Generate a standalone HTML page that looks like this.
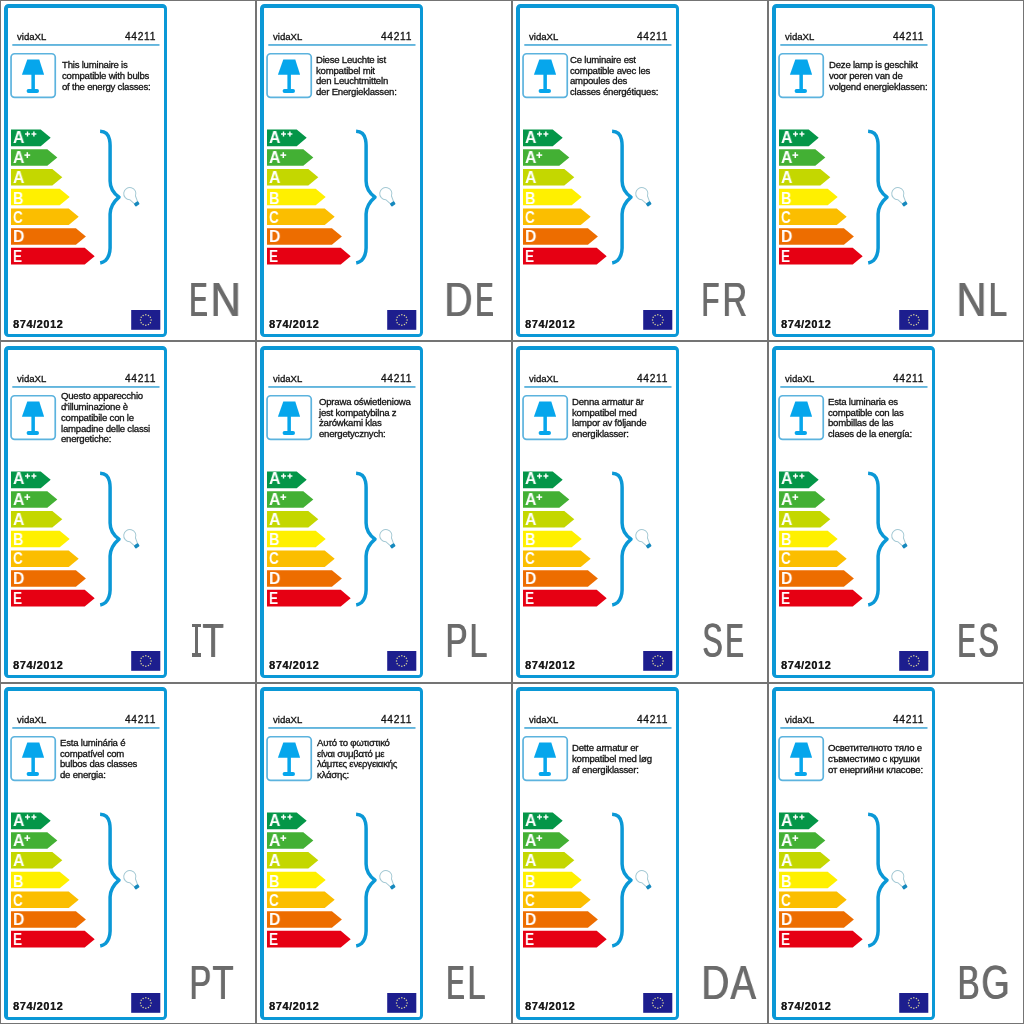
<!DOCTYPE html><html><head><meta charset="utf-8"><style>
*{margin:0;padding:0;box-sizing:border-box}
html,body{width:1024px;height:1024px;background:#fff;overflow:hidden}
body{position:relative;font-family:"Liberation Sans",sans-serif}
.cell{position:absolute;width:256px;border:1px solid #747474;background:#fff}
.c{position:absolute;left:0;width:256px;height:1px}
.lbl{position:absolute;left:4px;width:163px;border:solid #0b98d6;border-width:4px 3px 3px 4px;border-radius:4.5px}
svg{position:absolute;left:0;top:0;overflow:visible}
.brand{position:absolute;left:16.6px;top:30.8px;font-size:9.6px;color:#111;line-height:12px;white-space:nowrap;will-change:transform;-webkit-text-stroke:0.3px #111}
.num{position:absolute;right:99.6px;top:31px;font-size:10.2px;color:#111;line-height:12px;letter-spacing:0.7px;white-space:nowrap;will-change:transform;-webkit-text-stroke:0.3px #111}
.ds{position:absolute;font-size:9.6px;line-height:10.7px;letter-spacing:-0.22px;color:#111;white-space:nowrap;will-change:transform;-webkit-text-stroke:0.3px #111}
.lt{position:absolute;height:17px;line-height:17px;font-size:17px;font-weight:bold;color:#fff;white-space:nowrap;transform-origin:0 0;will-change:transform}
.reg{position:absolute;left:13.3px;top:317.7px;font-size:10.8px;font-weight:bold;color:#1a1a1a;line-height:12px;letter-spacing:0.65px;white-space:nowrap;will-change:transform;text-shadow:0.35px 0 0 #1a1a1a}
.lg{position:absolute;top:276.2px;font-size:47.4px;line-height:47.4px;color:#6b6b6b;white-space:nowrap;transform-origin:0 0;will-change:transform}
.lb{position:absolute;background:#6b6b6b}
</style></head><body><div class="cell" style="left:0px;top:0px;height:341px"></div><div class="lbl" style="left:4px;top:4px;height:333px"></div><div class="c" style="left:0px;top:0px"><svg width="256" height="100" viewBox="0 0 256 100"><rect x="11.05" y="53.75" width="44.2" height="43.7" rx="3.6" fill="none" stroke="#5cb3de" stroke-width="1.7"/><path d="M27.3 59.5H39.3L44.1 74.8H21.9Z" fill="#06a6ec"/><rect x="31.4" y="74" width="3.5" height="16" fill="#06a6ec"/><rect x="26.6" y="89.1" width="12.4" height="3.9" rx="1.9" fill="#06a6ec"/><rect x="12.3" y="44" width="147.2" height="1.9" fill="#62b5dd"/></svg><div class="brand">vidaXL</div><div class="num">44211</div><div class="ds" style="left:62.21px;top:60.15px">This luminaire is</div><div class="ds" style="left:62.21px;top:70.85px">compatible with bulbs</div><div class="ds" style="left:62.21px;top:81.55px">of the energy classes:</div></div><div class="c" style="left:0px;top:0px"><svg width="256" height="270" viewBox="0 0 256 270"><path d="M11.0 129.55H40.70L50.70 137.85L40.70 146.15H11.0Z" fill="#049648"/><path d="M11.0 149.27H47.30L57.30 157.57L47.30 165.87H11.0Z" fill="#43b034"/><path d="M11.0 168.99H52.30L62.30 177.29L52.30 185.59H11.0Z" fill="#c4d700"/><path d="M11.0 188.71H59.70L69.70 197.01L59.70 205.31H11.0Z" fill="#fff000"/><path d="M11.0 208.43H68.70L78.70 216.73L68.70 225.03H11.0Z" fill="#fbbe00"/><path d="M11.0 228.15H75.90L85.90 236.45L75.90 244.75H11.0Z" fill="#ed6d00"/><path d="M11.0 247.87H84.70L94.70 256.17L84.70 264.47H11.0Z" fill="#e60013"/><rect x="25.00" y="133.30" width="5.0" height="1.4" fill="#fff"/><rect x="26.80" y="131.50" width="1.4" height="5.0" fill="#fff"/><rect x="31.40" y="133.30" width="5.0" height="1.4" fill="#fff"/><rect x="33.20" y="131.50" width="1.4" height="5.0" fill="#fff"/><rect x="24.40" y="154.35" width="5.8" height="1.5" fill="#fff"/><rect x="26.55" y="152.20" width="1.5" height="5.8" fill="#fff"/><path d="M100.1 131.2C105 131.4 108.5 134.5 109.5 139.5C109.9 141.5 110.1 143 110.1 145.5V181C110.1 188 112.5 192.5 119 197.2C115.5 200.2 110.4 205 110.1 214V248C110 253.5 108.5 257.5 105.5 260.5C104 261.8 102.2 262.6 100.2 263" fill="none" stroke="#0b98d6" stroke-width="3.5" stroke-linecap="butt" stroke-linejoin="round"/><g transform="translate(129.8 193.6) rotate(-34)"><path d="M-3.4 5.1A6.1 6.1 0 1 1 3.4 5.1L1.9 11.2H-1.9Z" fill="none" stroke="#a4c9d4" stroke-width="1.0"/><rect x="-2.5" y="10.6" width="5" height="3.6" rx="1" fill="#1689be"/></g></svg><span class="lt" style="left:12.90px;top:128.76px;transform:scaleX(0.931)">A</span><span class="lt" style="left:12.90px;top:149.48px;transform:scaleX(0.931)">A</span><span class="lt" style="left:13.00px;top:169.20px;transform:scaleX(0.931)">A</span><span class="lt" style="left:13.16px;top:189.52px;transform:scaleX(0.849)">B</span><span class="lt" style="left:13.26px;top:208.94px;transform:scaleX(0.790)">C</span><span class="lt" style="left:13.07px;top:228.36px;transform:scaleX(0.928)">D</span><span class="lt" style="left:13.13px;top:248.38px;transform:scaleX(0.791)">E</span></div><div class="c" style="left:0px;top:0px"><svg width="256" height="340" viewBox="0 0 256 340"><rect x="131.2" y="310" width="29.1" height="19.8" fill="#1d1e8e"/><circle cx="151.10" cy="320.00" r="0.75" fill="#d9d49a"/><circle cx="150.39" cy="322.65" r="0.75" fill="#d9d49a"/><circle cx="148.45" cy="324.59" r="0.75" fill="#d9d49a"/><circle cx="145.80" cy="325.30" r="0.75" fill="#d9d49a"/><circle cx="143.15" cy="324.59" r="0.75" fill="#d9d49a"/><circle cx="141.21" cy="322.65" r="0.75" fill="#d9d49a"/><circle cx="140.50" cy="320.00" r="0.75" fill="#d9d49a"/><circle cx="141.21" cy="317.35" r="0.75" fill="#d9d49a"/><circle cx="143.15" cy="315.41" r="0.75" fill="#d9d49a"/><circle cx="145.80" cy="314.70" r="0.75" fill="#d9d49a"/><circle cx="148.45" cy="315.41" r="0.75" fill="#d9d49a"/><circle cx="150.39" cy="317.35" r="0.75" fill="#d9d49a"/></svg><div class="reg">874/2012</div><span class="lg" style="left:189.41px;transform:scaleX(0.5768);text-shadow:1.560px 0 0 #6b6b6b">E</span><span class="lg" style="left:209.63px;transform:scaleX(0.8891);text-shadow:1.012px 0 0 #6b6b6b">N</span></div><div class="cell" style="left:256px;top:0px;height:341px"></div><div class="lbl" style="left:260px;top:4px;height:333px"></div><div class="c" style="left:256px;top:0px"><svg width="256" height="100" viewBox="0 0 256 100"><rect x="11.05" y="53.75" width="44.2" height="43.7" rx="3.6" fill="none" stroke="#5cb3de" stroke-width="1.7"/><path d="M27.3 59.5H39.3L44.1 74.8H21.9Z" fill="#06a6ec"/><rect x="31.4" y="74" width="3.5" height="16" fill="#06a6ec"/><rect x="26.6" y="89.1" width="12.4" height="3.9" rx="1.9" fill="#06a6ec"/><rect x="12.3" y="44" width="147.2" height="1.9" fill="#62b5dd"/></svg><div class="brand">vidaXL</div><div class="num">44211</div><div class="ds" style="left:59.83px;top:54.80px">Diese Leuchte ist</div><div class="ds" style="left:59.83px;top:65.50px">kompatibel mit</div><div class="ds" style="left:59.83px;top:76.20px">den Leuchtmitteln</div><div class="ds" style="left:59.83px;top:86.90px">der Energieklassen:</div></div><div class="c" style="left:256px;top:0px"><svg width="256" height="270" viewBox="0 0 256 270"><path d="M11.0 129.55H40.70L50.70 137.85L40.70 146.15H11.0Z" fill="#049648"/><path d="M11.0 149.27H47.30L57.30 157.57L47.30 165.87H11.0Z" fill="#43b034"/><path d="M11.0 168.99H52.30L62.30 177.29L52.30 185.59H11.0Z" fill="#c4d700"/><path d="M11.0 188.71H59.70L69.70 197.01L59.70 205.31H11.0Z" fill="#fff000"/><path d="M11.0 208.43H68.70L78.70 216.73L68.70 225.03H11.0Z" fill="#fbbe00"/><path d="M11.0 228.15H75.90L85.90 236.45L75.90 244.75H11.0Z" fill="#ed6d00"/><path d="M11.0 247.87H84.70L94.70 256.17L84.70 264.47H11.0Z" fill="#e60013"/><rect x="25.00" y="133.30" width="5.0" height="1.4" fill="#fff"/><rect x="26.80" y="131.50" width="1.4" height="5.0" fill="#fff"/><rect x="31.40" y="133.30" width="5.0" height="1.4" fill="#fff"/><rect x="33.20" y="131.50" width="1.4" height="5.0" fill="#fff"/><rect x="24.40" y="154.35" width="5.8" height="1.5" fill="#fff"/><rect x="26.55" y="152.20" width="1.5" height="5.8" fill="#fff"/><path d="M100.1 131.2C105 131.4 108.5 134.5 109.5 139.5C109.9 141.5 110.1 143 110.1 145.5V181C110.1 188 112.5 192.5 119 197.2C115.5 200.2 110.4 205 110.1 214V248C110 253.5 108.5 257.5 105.5 260.5C104 261.8 102.2 262.6 100.2 263" fill="none" stroke="#0b98d6" stroke-width="3.5" stroke-linecap="butt" stroke-linejoin="round"/><g transform="translate(129.8 193.6) rotate(-34)"><path d="M-3.4 5.1A6.1 6.1 0 1 1 3.4 5.1L1.9 11.2H-1.9Z" fill="none" stroke="#a4c9d4" stroke-width="1.0"/><rect x="-2.5" y="10.6" width="5" height="3.6" rx="1" fill="#1689be"/></g></svg><span class="lt" style="left:12.90px;top:128.76px;transform:scaleX(0.931)">A</span><span class="lt" style="left:12.90px;top:149.48px;transform:scaleX(0.931)">A</span><span class="lt" style="left:13.00px;top:169.20px;transform:scaleX(0.931)">A</span><span class="lt" style="left:13.16px;top:189.52px;transform:scaleX(0.849)">B</span><span class="lt" style="left:13.26px;top:208.94px;transform:scaleX(0.790)">C</span><span class="lt" style="left:13.07px;top:228.36px;transform:scaleX(0.928)">D</span><span class="lt" style="left:13.13px;top:248.38px;transform:scaleX(0.791)">E</span></div><div class="c" style="left:256px;top:0px"><svg width="256" height="340" viewBox="0 0 256 340"><rect x="131.2" y="310" width="29.1" height="19.8" fill="#1d1e8e"/><circle cx="151.10" cy="320.00" r="0.75" fill="#d9d49a"/><circle cx="150.39" cy="322.65" r="0.75" fill="#d9d49a"/><circle cx="148.45" cy="324.59" r="0.75" fill="#d9d49a"/><circle cx="145.80" cy="325.30" r="0.75" fill="#d9d49a"/><circle cx="143.15" cy="324.59" r="0.75" fill="#d9d49a"/><circle cx="141.21" cy="322.65" r="0.75" fill="#d9d49a"/><circle cx="140.50" cy="320.00" r="0.75" fill="#d9d49a"/><circle cx="141.21" cy="317.35" r="0.75" fill="#d9d49a"/><circle cx="143.15" cy="315.41" r="0.75" fill="#d9d49a"/><circle cx="145.80" cy="314.70" r="0.75" fill="#d9d49a"/><circle cx="148.45" cy="315.41" r="0.75" fill="#d9d49a"/><circle cx="150.39" cy="317.35" r="0.75" fill="#d9d49a"/></svg><div class="reg">874/2012</div><span class="lg" style="left:188.48px;transform:scaleX(0.8226);text-shadow:1.094px 0 0 #6b6b6b">D</span><span class="lg" style="left:218.81px;transform:scaleX(0.5768);text-shadow:1.560px 0 0 #6b6b6b">E</span></div><div class="cell" style="left:512px;top:0px;height:341px"></div><div class="lbl" style="left:516px;top:4px;height:333px"></div><div class="c" style="left:512px;top:0px"><svg width="256" height="100" viewBox="0 0 256 100"><rect x="11.05" y="53.75" width="44.2" height="43.7" rx="3.6" fill="none" stroke="#5cb3de" stroke-width="1.7"/><path d="M27.3 59.5H39.3L44.1 74.8H21.9Z" fill="#06a6ec"/><rect x="31.4" y="74" width="3.5" height="16" fill="#06a6ec"/><rect x="26.6" y="89.1" width="12.4" height="3.9" rx="1.9" fill="#06a6ec"/><rect x="12.3" y="44" width="147.2" height="1.9" fill="#62b5dd"/></svg><div class="brand">vidaXL</div><div class="num">44211</div><div class="ds" style="left:58.42px;top:54.80px">Ce luminaire est</div><div class="ds" style="left:58.42px;top:65.50px">compatible avec les</div><div class="ds" style="left:58.42px;top:76.20px">ampoules des</div><div class="ds" style="left:58.42px;top:86.90px">classes énergétiques:</div></div><div class="c" style="left:512px;top:0px"><svg width="256" height="270" viewBox="0 0 256 270"><path d="M11.0 129.55H40.70L50.70 137.85L40.70 146.15H11.0Z" fill="#049648"/><path d="M11.0 149.27H47.30L57.30 157.57L47.30 165.87H11.0Z" fill="#43b034"/><path d="M11.0 168.99H52.30L62.30 177.29L52.30 185.59H11.0Z" fill="#c4d700"/><path d="M11.0 188.71H59.70L69.70 197.01L59.70 205.31H11.0Z" fill="#fff000"/><path d="M11.0 208.43H68.70L78.70 216.73L68.70 225.03H11.0Z" fill="#fbbe00"/><path d="M11.0 228.15H75.90L85.90 236.45L75.90 244.75H11.0Z" fill="#ed6d00"/><path d="M11.0 247.87H84.70L94.70 256.17L84.70 264.47H11.0Z" fill="#e60013"/><rect x="25.00" y="133.30" width="5.0" height="1.4" fill="#fff"/><rect x="26.80" y="131.50" width="1.4" height="5.0" fill="#fff"/><rect x="31.40" y="133.30" width="5.0" height="1.4" fill="#fff"/><rect x="33.20" y="131.50" width="1.4" height="5.0" fill="#fff"/><rect x="24.40" y="154.35" width="5.8" height="1.5" fill="#fff"/><rect x="26.55" y="152.20" width="1.5" height="5.8" fill="#fff"/><path d="M100.1 131.2C105 131.4 108.5 134.5 109.5 139.5C109.9 141.5 110.1 143 110.1 145.5V181C110.1 188 112.5 192.5 119 197.2C115.5 200.2 110.4 205 110.1 214V248C110 253.5 108.5 257.5 105.5 260.5C104 261.8 102.2 262.6 100.2 263" fill="none" stroke="#0b98d6" stroke-width="3.5" stroke-linecap="butt" stroke-linejoin="round"/><g transform="translate(129.8 193.6) rotate(-34)"><path d="M-3.4 5.1A6.1 6.1 0 1 1 3.4 5.1L1.9 11.2H-1.9Z" fill="none" stroke="#a4c9d4" stroke-width="1.0"/><rect x="-2.5" y="10.6" width="5" height="3.6" rx="1" fill="#1689be"/></g></svg><span class="lt" style="left:12.90px;top:128.76px;transform:scaleX(0.931)">A</span><span class="lt" style="left:12.90px;top:149.48px;transform:scaleX(0.931)">A</span><span class="lt" style="left:13.00px;top:169.20px;transform:scaleX(0.931)">A</span><span class="lt" style="left:13.16px;top:189.52px;transform:scaleX(0.849)">B</span><span class="lt" style="left:13.26px;top:208.94px;transform:scaleX(0.790)">C</span><span class="lt" style="left:13.07px;top:228.36px;transform:scaleX(0.928)">D</span><span class="lt" style="left:13.13px;top:248.38px;transform:scaleX(0.791)">E</span></div><div class="c" style="left:512px;top:0px"><svg width="256" height="340" viewBox="0 0 256 340"><rect x="131.2" y="310" width="29.1" height="19.8" fill="#1d1e8e"/><circle cx="151.10" cy="320.00" r="0.75" fill="#d9d49a"/><circle cx="150.39" cy="322.65" r="0.75" fill="#d9d49a"/><circle cx="148.45" cy="324.59" r="0.75" fill="#d9d49a"/><circle cx="145.80" cy="325.30" r="0.75" fill="#d9d49a"/><circle cx="143.15" cy="324.59" r="0.75" fill="#d9d49a"/><circle cx="141.21" cy="322.65" r="0.75" fill="#d9d49a"/><circle cx="140.50" cy="320.00" r="0.75" fill="#d9d49a"/><circle cx="141.21" cy="317.35" r="0.75" fill="#d9d49a"/><circle cx="143.15" cy="315.41" r="0.75" fill="#d9d49a"/><circle cx="145.80" cy="314.70" r="0.75" fill="#d9d49a"/><circle cx="148.45" cy="315.41" r="0.75" fill="#d9d49a"/><circle cx="150.39" cy="317.35" r="0.75" fill="#d9d49a"/></svg><div class="reg">874/2012</div><span class="lg" style="left:189.45px;transform:scaleX(0.6200);text-shadow:1.452px 0 0 #6b6b6b">F</span><span class="lg" style="left:209.77px;transform:scaleX(0.7198);text-shadow:1.250px 0 0 #6b6b6b">R</span></div><div class="cell" style="left:768px;top:0px;height:341px"></div><div class="lbl" style="left:772px;top:4px;height:333px"></div><div class="c" style="left:768px;top:0px"><svg width="256" height="100" viewBox="0 0 256 100"><rect x="11.05" y="53.75" width="44.2" height="43.7" rx="3.6" fill="none" stroke="#5cb3de" stroke-width="1.7"/><path d="M27.3 59.5H39.3L44.1 74.8H21.9Z" fill="#06a6ec"/><rect x="31.4" y="74" width="3.5" height="16" fill="#06a6ec"/><rect x="26.6" y="89.1" width="12.4" height="3.9" rx="1.9" fill="#06a6ec"/><rect x="12.3" y="44" width="147.2" height="1.9" fill="#62b5dd"/></svg><div class="brand">vidaXL</div><div class="num">44211</div><div class="ds" style="left:61.13px;top:60.15px">Deze lamp is geschikt</div><div class="ds" style="left:61.13px;top:70.85px">voor peren van de</div><div class="ds" style="left:61.13px;top:81.55px">volgend energieklassen:</div></div><div class="c" style="left:768px;top:0px"><svg width="256" height="270" viewBox="0 0 256 270"><path d="M11.0 129.55H40.70L50.70 137.85L40.70 146.15H11.0Z" fill="#049648"/><path d="M11.0 149.27H47.30L57.30 157.57L47.30 165.87H11.0Z" fill="#43b034"/><path d="M11.0 168.99H52.30L62.30 177.29L52.30 185.59H11.0Z" fill="#c4d700"/><path d="M11.0 188.71H59.70L69.70 197.01L59.70 205.31H11.0Z" fill="#fff000"/><path d="M11.0 208.43H68.70L78.70 216.73L68.70 225.03H11.0Z" fill="#fbbe00"/><path d="M11.0 228.15H75.90L85.90 236.45L75.90 244.75H11.0Z" fill="#ed6d00"/><path d="M11.0 247.87H84.70L94.70 256.17L84.70 264.47H11.0Z" fill="#e60013"/><rect x="25.00" y="133.30" width="5.0" height="1.4" fill="#fff"/><rect x="26.80" y="131.50" width="1.4" height="5.0" fill="#fff"/><rect x="31.40" y="133.30" width="5.0" height="1.4" fill="#fff"/><rect x="33.20" y="131.50" width="1.4" height="5.0" fill="#fff"/><rect x="24.40" y="154.35" width="5.8" height="1.5" fill="#fff"/><rect x="26.55" y="152.20" width="1.5" height="5.8" fill="#fff"/><path d="M100.1 131.2C105 131.4 108.5 134.5 109.5 139.5C109.9 141.5 110.1 143 110.1 145.5V181C110.1 188 112.5 192.5 119 197.2C115.5 200.2 110.4 205 110.1 214V248C110 253.5 108.5 257.5 105.5 260.5C104 261.8 102.2 262.6 100.2 263" fill="none" stroke="#0b98d6" stroke-width="3.5" stroke-linecap="butt" stroke-linejoin="round"/><g transform="translate(129.8 193.6) rotate(-34)"><path d="M-3.4 5.1A6.1 6.1 0 1 1 3.4 5.1L1.9 11.2H-1.9Z" fill="none" stroke="#a4c9d4" stroke-width="1.0"/><rect x="-2.5" y="10.6" width="5" height="3.6" rx="1" fill="#1689be"/></g></svg><span class="lt" style="left:12.90px;top:128.76px;transform:scaleX(0.931)">A</span><span class="lt" style="left:12.90px;top:149.48px;transform:scaleX(0.931)">A</span><span class="lt" style="left:13.00px;top:169.20px;transform:scaleX(0.931)">A</span><span class="lt" style="left:13.16px;top:189.52px;transform:scaleX(0.849)">B</span><span class="lt" style="left:13.26px;top:208.94px;transform:scaleX(0.790)">C</span><span class="lt" style="left:13.07px;top:228.36px;transform:scaleX(0.928)">D</span><span class="lt" style="left:13.13px;top:248.38px;transform:scaleX(0.791)">E</span></div><div class="c" style="left:768px;top:0px"><svg width="256" height="340" viewBox="0 0 256 340"><rect x="131.2" y="310" width="29.1" height="19.8" fill="#1d1e8e"/><circle cx="151.10" cy="320.00" r="0.75" fill="#d9d49a"/><circle cx="150.39" cy="322.65" r="0.75" fill="#d9d49a"/><circle cx="148.45" cy="324.59" r="0.75" fill="#d9d49a"/><circle cx="145.80" cy="325.30" r="0.75" fill="#d9d49a"/><circle cx="143.15" cy="324.59" r="0.75" fill="#d9d49a"/><circle cx="141.21" cy="322.65" r="0.75" fill="#d9d49a"/><circle cx="140.50" cy="320.00" r="0.75" fill="#d9d49a"/><circle cx="141.21" cy="317.35" r="0.75" fill="#d9d49a"/><circle cx="143.15" cy="315.41" r="0.75" fill="#d9d49a"/><circle cx="145.80" cy="314.70" r="0.75" fill="#d9d49a"/><circle cx="148.45" cy="315.41" r="0.75" fill="#d9d49a"/><circle cx="150.39" cy="317.35" r="0.75" fill="#d9d49a"/></svg><div class="reg">874/2012</div><span class="lg" style="left:188.06px;transform:scaleX(0.8816);text-shadow:1.021px 0 0 #6b6b6b">N</span><span class="lg" style="left:220.30px;transform:scaleX(0.7111);text-shadow:1.266px 0 0 #6b6b6b">L</span></div><div class="cell" style="left:0px;top:341px;height:342px"></div><div class="lbl" style="left:4px;top:346px;height:332px"></div><div class="c" style="left:0px;top:342px"><svg width="256" height="100" viewBox="0 0 256 100"><rect x="11.05" y="53.75" width="44.2" height="43.7" rx="3.6" fill="none" stroke="#5cb3de" stroke-width="1.7"/><path d="M27.3 59.5H39.3L44.1 74.8H21.9Z" fill="#06a6ec"/><rect x="31.4" y="74" width="3.5" height="16" fill="#06a6ec"/><rect x="26.6" y="89.1" width="12.4" height="3.9" rx="1.9" fill="#06a6ec"/><rect x="12.3" y="44" width="147.2" height="1.9" fill="#62b5dd"/></svg><div class="brand">vidaXL</div><div class="num">44211</div><div class="ds" style="left:61.37px;top:49.45px">Questo apparecchio</div><div class="ds" style="left:61.37px;top:60.15px">d'illuminazione è</div><div class="ds" style="left:61.37px;top:70.85px">compatibile con le</div><div class="ds" style="left:61.37px;top:81.55px">lampadine delle classi</div><div class="ds" style="left:61.37px;top:92.25px">energetiche:</div></div><div class="c" style="left:0px;top:341.5px"><svg width="256" height="270" viewBox="0 0 256 270"><path d="M11.0 129.55H40.70L50.70 137.85L40.70 146.15H11.0Z" fill="#049648"/><path d="M11.0 149.27H47.30L57.30 157.57L47.30 165.87H11.0Z" fill="#43b034"/><path d="M11.0 168.99H52.30L62.30 177.29L52.30 185.59H11.0Z" fill="#c4d700"/><path d="M11.0 188.71H59.70L69.70 197.01L59.70 205.31H11.0Z" fill="#fff000"/><path d="M11.0 208.43H68.70L78.70 216.73L68.70 225.03H11.0Z" fill="#fbbe00"/><path d="M11.0 228.15H75.90L85.90 236.45L75.90 244.75H11.0Z" fill="#ed6d00"/><path d="M11.0 247.87H84.70L94.70 256.17L84.70 264.47H11.0Z" fill="#e60013"/><rect x="25.00" y="133.30" width="5.0" height="1.4" fill="#fff"/><rect x="26.80" y="131.50" width="1.4" height="5.0" fill="#fff"/><rect x="31.40" y="133.30" width="5.0" height="1.4" fill="#fff"/><rect x="33.20" y="131.50" width="1.4" height="5.0" fill="#fff"/><rect x="24.40" y="154.35" width="5.8" height="1.5" fill="#fff"/><rect x="26.55" y="152.20" width="1.5" height="5.8" fill="#fff"/><path d="M100.1 131.2C105 131.4 108.5 134.5 109.5 139.5C109.9 141.5 110.1 143 110.1 145.5V181C110.1 188 112.5 192.5 119 197.2C115.5 200.2 110.4 205 110.1 214V248C110 253.5 108.5 257.5 105.5 260.5C104 261.8 102.2 262.6 100.2 263" fill="none" stroke="#0b98d6" stroke-width="3.5" stroke-linecap="butt" stroke-linejoin="round"/><g transform="translate(129.8 193.6) rotate(-34)"><path d="M-3.4 5.1A6.1 6.1 0 1 1 3.4 5.1L1.9 11.2H-1.9Z" fill="none" stroke="#a4c9d4" stroke-width="1.0"/><rect x="-2.5" y="10.6" width="5" height="3.6" rx="1" fill="#1689be"/></g></svg><span class="lt" style="left:12.90px;top:128.76px;transform:scaleX(0.931)">A</span><span class="lt" style="left:12.90px;top:149.48px;transform:scaleX(0.931)">A</span><span class="lt" style="left:13.00px;top:169.20px;transform:scaleX(0.931)">A</span><span class="lt" style="left:13.16px;top:189.52px;transform:scaleX(0.849)">B</span><span class="lt" style="left:13.26px;top:208.94px;transform:scaleX(0.790)">C</span><span class="lt" style="left:13.07px;top:228.36px;transform:scaleX(0.928)">D</span><span class="lt" style="left:13.13px;top:248.38px;transform:scaleX(0.791)">E</span></div><div class="c" style="left:0px;top:341px"><svg width="256" height="340" viewBox="0 0 256 340"><rect x="131.2" y="310" width="29.1" height="19.8" fill="#1d1e8e"/><circle cx="151.10" cy="320.00" r="0.75" fill="#d9d49a"/><circle cx="150.39" cy="322.65" r="0.75" fill="#d9d49a"/><circle cx="148.45" cy="324.59" r="0.75" fill="#d9d49a"/><circle cx="145.80" cy="325.30" r="0.75" fill="#d9d49a"/><circle cx="143.15" cy="324.59" r="0.75" fill="#d9d49a"/><circle cx="141.21" cy="322.65" r="0.75" fill="#d9d49a"/><circle cx="140.50" cy="320.00" r="0.75" fill="#d9d49a"/><circle cx="141.21" cy="317.35" r="0.75" fill="#d9d49a"/><circle cx="143.15" cy="315.41" r="0.75" fill="#d9d49a"/><circle cx="145.80" cy="314.70" r="0.75" fill="#d9d49a"/><circle cx="148.45" cy="315.41" r="0.75" fill="#d9d49a"/><circle cx="150.39" cy="317.35" r="0.75" fill="#d9d49a"/></svg><div class="reg">874/2012</div><div class="lb" style="left:191.80px;top:282.8px;width:9.20px;height:3.6px"></div><div class="lb" style="left:191.80px;top:312.1px;width:9.20px;height:3.6px"></div><div class="lb" style="left:194.70px;top:282.8px;width:3.4px;height:32.9px"></div><span class="lg" style="left:202.30px;transform:scaleX(0.7365);text-shadow:1.222px 0 0 #6b6b6b">T</span></div><div class="cell" style="left:256px;top:341px;height:342px"></div><div class="lbl" style="left:260px;top:346px;height:332px"></div><div class="c" style="left:256px;top:342px"><svg width="256" height="100" viewBox="0 0 256 100"><rect x="11.05" y="53.75" width="44.2" height="43.7" rx="3.6" fill="none" stroke="#5cb3de" stroke-width="1.7"/><path d="M27.3 59.5H39.3L44.1 74.8H21.9Z" fill="#06a6ec"/><rect x="31.4" y="74" width="3.5" height="16" fill="#06a6ec"/><rect x="26.6" y="89.1" width="12.4" height="3.9" rx="1.9" fill="#06a6ec"/><rect x="12.3" y="44" width="147.2" height="1.9" fill="#62b5dd"/></svg><div class="brand">vidaXL</div><div class="num">44211</div><div class="ds" style="left:62.57px;top:54.80px">Oprawa oświetleniowa</div><div class="ds" style="left:62.57px;top:65.50px">jest kompatybilna z</div><div class="ds" style="left:62.57px;top:76.20px">żarówkami klas</div><div class="ds" style="left:62.57px;top:86.90px">energetycznych:</div></div><div class="c" style="left:256px;top:341.5px"><svg width="256" height="270" viewBox="0 0 256 270"><path d="M11.0 129.55H40.70L50.70 137.85L40.70 146.15H11.0Z" fill="#049648"/><path d="M11.0 149.27H47.30L57.30 157.57L47.30 165.87H11.0Z" fill="#43b034"/><path d="M11.0 168.99H52.30L62.30 177.29L52.30 185.59H11.0Z" fill="#c4d700"/><path d="M11.0 188.71H59.70L69.70 197.01L59.70 205.31H11.0Z" fill="#fff000"/><path d="M11.0 208.43H68.70L78.70 216.73L68.70 225.03H11.0Z" fill="#fbbe00"/><path d="M11.0 228.15H75.90L85.90 236.45L75.90 244.75H11.0Z" fill="#ed6d00"/><path d="M11.0 247.87H84.70L94.70 256.17L84.70 264.47H11.0Z" fill="#e60013"/><rect x="25.00" y="133.30" width="5.0" height="1.4" fill="#fff"/><rect x="26.80" y="131.50" width="1.4" height="5.0" fill="#fff"/><rect x="31.40" y="133.30" width="5.0" height="1.4" fill="#fff"/><rect x="33.20" y="131.50" width="1.4" height="5.0" fill="#fff"/><rect x="24.40" y="154.35" width="5.8" height="1.5" fill="#fff"/><rect x="26.55" y="152.20" width="1.5" height="5.8" fill="#fff"/><path d="M100.1 131.2C105 131.4 108.5 134.5 109.5 139.5C109.9 141.5 110.1 143 110.1 145.5V181C110.1 188 112.5 192.5 119 197.2C115.5 200.2 110.4 205 110.1 214V248C110 253.5 108.5 257.5 105.5 260.5C104 261.8 102.2 262.6 100.2 263" fill="none" stroke="#0b98d6" stroke-width="3.5" stroke-linecap="butt" stroke-linejoin="round"/><g transform="translate(129.8 193.6) rotate(-34)"><path d="M-3.4 5.1A6.1 6.1 0 1 1 3.4 5.1L1.9 11.2H-1.9Z" fill="none" stroke="#a4c9d4" stroke-width="1.0"/><rect x="-2.5" y="10.6" width="5" height="3.6" rx="1" fill="#1689be"/></g></svg><span class="lt" style="left:12.90px;top:128.76px;transform:scaleX(0.931)">A</span><span class="lt" style="left:12.90px;top:149.48px;transform:scaleX(0.931)">A</span><span class="lt" style="left:13.00px;top:169.20px;transform:scaleX(0.931)">A</span><span class="lt" style="left:13.16px;top:189.52px;transform:scaleX(0.849)">B</span><span class="lt" style="left:13.26px;top:208.94px;transform:scaleX(0.790)">C</span><span class="lt" style="left:13.07px;top:228.36px;transform:scaleX(0.928)">D</span><span class="lt" style="left:13.13px;top:248.38px;transform:scaleX(0.791)">E</span></div><div class="c" style="left:256px;top:341px"><svg width="256" height="340" viewBox="0 0 256 340"><rect x="131.2" y="310" width="29.1" height="19.8" fill="#1d1e8e"/><circle cx="151.10" cy="320.00" r="0.75" fill="#d9d49a"/><circle cx="150.39" cy="322.65" r="0.75" fill="#d9d49a"/><circle cx="148.45" cy="324.59" r="0.75" fill="#d9d49a"/><circle cx="145.80" cy="325.30" r="0.75" fill="#d9d49a"/><circle cx="143.15" cy="324.59" r="0.75" fill="#d9d49a"/><circle cx="141.21" cy="322.65" r="0.75" fill="#d9d49a"/><circle cx="140.50" cy="320.00" r="0.75" fill="#d9d49a"/><circle cx="141.21" cy="317.35" r="0.75" fill="#d9d49a"/><circle cx="143.15" cy="315.41" r="0.75" fill="#d9d49a"/><circle cx="145.80" cy="314.70" r="0.75" fill="#d9d49a"/><circle cx="148.45" cy="315.41" r="0.75" fill="#d9d49a"/><circle cx="150.39" cy="317.35" r="0.75" fill="#d9d49a"/></svg><div class="reg">874/2012</div><span class="lg" style="left:189.17px;transform:scaleX(0.6940);text-shadow:1.297px 0 0 #6b6b6b">P</span><span class="lg" style="left:213.43px;transform:scaleX(0.6780);text-shadow:1.328px 0 0 #6b6b6b">L</span></div><div class="cell" style="left:512px;top:341px;height:342px"></div><div class="lbl" style="left:516px;top:346px;height:332px"></div><div class="c" style="left:512px;top:342px"><svg width="256" height="100" viewBox="0 0 256 100"><rect x="11.05" y="53.75" width="44.2" height="43.7" rx="3.6" fill="none" stroke="#5cb3de" stroke-width="1.7"/><path d="M27.3 59.5H39.3L44.1 74.8H21.9Z" fill="#06a6ec"/><rect x="31.4" y="74" width="3.5" height="16" fill="#06a6ec"/><rect x="26.6" y="89.1" width="12.4" height="3.9" rx="1.9" fill="#06a6ec"/><rect x="12.3" y="44" width="147.2" height="1.9" fill="#62b5dd"/></svg><div class="brand">vidaXL</div><div class="num">44211</div><div class="ds" style="left:60.43px;top:54.80px">Denna armatur är</div><div class="ds" style="left:60.43px;top:65.50px">kompatibel med</div><div class="ds" style="left:60.43px;top:76.20px">lampor av följande</div><div class="ds" style="left:60.43px;top:86.90px">energiklasser:</div></div><div class="c" style="left:512px;top:341.5px"><svg width="256" height="270" viewBox="0 0 256 270"><path d="M11.0 129.55H40.70L50.70 137.85L40.70 146.15H11.0Z" fill="#049648"/><path d="M11.0 149.27H47.30L57.30 157.57L47.30 165.87H11.0Z" fill="#43b034"/><path d="M11.0 168.99H52.30L62.30 177.29L52.30 185.59H11.0Z" fill="#c4d700"/><path d="M11.0 188.71H59.70L69.70 197.01L59.70 205.31H11.0Z" fill="#fff000"/><path d="M11.0 208.43H68.70L78.70 216.73L68.70 225.03H11.0Z" fill="#fbbe00"/><path d="M11.0 228.15H75.90L85.90 236.45L75.90 244.75H11.0Z" fill="#ed6d00"/><path d="M11.0 247.87H84.70L94.70 256.17L84.70 264.47H11.0Z" fill="#e60013"/><rect x="25.00" y="133.30" width="5.0" height="1.4" fill="#fff"/><rect x="26.80" y="131.50" width="1.4" height="5.0" fill="#fff"/><rect x="31.40" y="133.30" width="5.0" height="1.4" fill="#fff"/><rect x="33.20" y="131.50" width="1.4" height="5.0" fill="#fff"/><rect x="24.40" y="154.35" width="5.8" height="1.5" fill="#fff"/><rect x="26.55" y="152.20" width="1.5" height="5.8" fill="#fff"/><path d="M100.1 131.2C105 131.4 108.5 134.5 109.5 139.5C109.9 141.5 110.1 143 110.1 145.5V181C110.1 188 112.5 192.5 119 197.2C115.5 200.2 110.4 205 110.1 214V248C110 253.5 108.5 257.5 105.5 260.5C104 261.8 102.2 262.6 100.2 263" fill="none" stroke="#0b98d6" stroke-width="3.5" stroke-linecap="butt" stroke-linejoin="round"/><g transform="translate(129.8 193.6) rotate(-34)"><path d="M-3.4 5.1A6.1 6.1 0 1 1 3.4 5.1L1.9 11.2H-1.9Z" fill="none" stroke="#a4c9d4" stroke-width="1.0"/><rect x="-2.5" y="10.6" width="5" height="3.6" rx="1" fill="#1689be"/></g></svg><span class="lt" style="left:12.90px;top:128.76px;transform:scaleX(0.931)">A</span><span class="lt" style="left:12.90px;top:149.48px;transform:scaleX(0.931)">A</span><span class="lt" style="left:13.00px;top:169.20px;transform:scaleX(0.931)">A</span><span class="lt" style="left:13.16px;top:189.52px;transform:scaleX(0.849)">B</span><span class="lt" style="left:13.26px;top:208.94px;transform:scaleX(0.790)">C</span><span class="lt" style="left:13.07px;top:228.36px;transform:scaleX(0.928)">D</span><span class="lt" style="left:13.13px;top:248.38px;transform:scaleX(0.791)">E</span></div><div class="c" style="left:512px;top:341px"><svg width="256" height="340" viewBox="0 0 256 340"><rect x="131.2" y="310" width="29.1" height="19.8" fill="#1d1e8e"/><circle cx="151.10" cy="320.00" r="0.75" fill="#d9d49a"/><circle cx="150.39" cy="322.65" r="0.75" fill="#d9d49a"/><circle cx="148.45" cy="324.59" r="0.75" fill="#d9d49a"/><circle cx="145.80" cy="325.30" r="0.75" fill="#d9d49a"/><circle cx="143.15" cy="324.59" r="0.75" fill="#d9d49a"/><circle cx="141.21" cy="322.65" r="0.75" fill="#d9d49a"/><circle cx="140.50" cy="320.00" r="0.75" fill="#d9d49a"/><circle cx="141.21" cy="317.35" r="0.75" fill="#d9d49a"/><circle cx="143.15" cy="315.41" r="0.75" fill="#d9d49a"/><circle cx="145.80" cy="314.70" r="0.75" fill="#d9d49a"/><circle cx="148.45" cy="315.41" r="0.75" fill="#d9d49a"/><circle cx="150.39" cy="317.35" r="0.75" fill="#d9d49a"/></svg><div class="reg">874/2012</div><span class="lg" style="left:189.64px;transform:scaleX(0.6366);text-shadow:1.414px 0 0 #6b6b6b">S</span><span class="lg" style="left:213.10px;transform:scaleX(0.5807);text-shadow:1.550px 0 0 #6b6b6b">E</span></div><div class="cell" style="left:768px;top:341px;height:342px"></div><div class="lbl" style="left:772px;top:346px;height:332px"></div><div class="c" style="left:768px;top:342px"><svg width="256" height="100" viewBox="0 0 256 100"><rect x="11.05" y="53.75" width="44.2" height="43.7" rx="3.6" fill="none" stroke="#5cb3de" stroke-width="1.7"/><path d="M27.3 59.5H39.3L44.1 74.8H21.9Z" fill="#06a6ec"/><rect x="31.4" y="74" width="3.5" height="16" fill="#06a6ec"/><rect x="26.6" y="89.1" width="12.4" height="3.9" rx="1.9" fill="#06a6ec"/><rect x="12.3" y="44" width="147.2" height="1.9" fill="#62b5dd"/></svg><div class="brand">vidaXL</div><div class="num">44211</div><div class="ds" style="left:59.63px;top:54.80px">Esta luminaria es</div><div class="ds" style="left:59.63px;top:65.50px">compatible con las</div><div class="ds" style="left:59.63px;top:76.20px">bombillas de las</div><div class="ds" style="left:59.63px;top:86.90px">clases de la energía:</div></div><div class="c" style="left:768px;top:341.5px"><svg width="256" height="270" viewBox="0 0 256 270"><path d="M11.0 129.55H40.70L50.70 137.85L40.70 146.15H11.0Z" fill="#049648"/><path d="M11.0 149.27H47.30L57.30 157.57L47.30 165.87H11.0Z" fill="#43b034"/><path d="M11.0 168.99H52.30L62.30 177.29L52.30 185.59H11.0Z" fill="#c4d700"/><path d="M11.0 188.71H59.70L69.70 197.01L59.70 205.31H11.0Z" fill="#fff000"/><path d="M11.0 208.43H68.70L78.70 216.73L68.70 225.03H11.0Z" fill="#fbbe00"/><path d="M11.0 228.15H75.90L85.90 236.45L75.90 244.75H11.0Z" fill="#ed6d00"/><path d="M11.0 247.87H84.70L94.70 256.17L84.70 264.47H11.0Z" fill="#e60013"/><rect x="25.00" y="133.30" width="5.0" height="1.4" fill="#fff"/><rect x="26.80" y="131.50" width="1.4" height="5.0" fill="#fff"/><rect x="31.40" y="133.30" width="5.0" height="1.4" fill="#fff"/><rect x="33.20" y="131.50" width="1.4" height="5.0" fill="#fff"/><rect x="24.40" y="154.35" width="5.8" height="1.5" fill="#fff"/><rect x="26.55" y="152.20" width="1.5" height="5.8" fill="#fff"/><path d="M100.1 131.2C105 131.4 108.5 134.5 109.5 139.5C109.9 141.5 110.1 143 110.1 145.5V181C110.1 188 112.5 192.5 119 197.2C115.5 200.2 110.4 205 110.1 214V248C110 253.5 108.5 257.5 105.5 260.5C104 261.8 102.2 262.6 100.2 263" fill="none" stroke="#0b98d6" stroke-width="3.5" stroke-linecap="butt" stroke-linejoin="round"/><g transform="translate(129.8 193.6) rotate(-34)"><path d="M-3.4 5.1A6.1 6.1 0 1 1 3.4 5.1L1.9 11.2H-1.9Z" fill="none" stroke="#a4c9d4" stroke-width="1.0"/><rect x="-2.5" y="10.6" width="5" height="3.6" rx="1" fill="#1689be"/></g></svg><span class="lt" style="left:12.90px;top:128.76px;transform:scaleX(0.931)">A</span><span class="lt" style="left:12.90px;top:149.48px;transform:scaleX(0.931)">A</span><span class="lt" style="left:13.00px;top:169.20px;transform:scaleX(0.931)">A</span><span class="lt" style="left:13.16px;top:189.52px;transform:scaleX(0.849)">B</span><span class="lt" style="left:13.26px;top:208.94px;transform:scaleX(0.790)">C</span><span class="lt" style="left:13.07px;top:228.36px;transform:scaleX(0.928)">D</span><span class="lt" style="left:13.13px;top:248.38px;transform:scaleX(0.791)">E</span></div><div class="c" style="left:768px;top:341px"><svg width="256" height="340" viewBox="0 0 256 340"><rect x="131.2" y="310" width="29.1" height="19.8" fill="#1d1e8e"/><circle cx="151.10" cy="320.00" r="0.75" fill="#d9d49a"/><circle cx="150.39" cy="322.65" r="0.75" fill="#d9d49a"/><circle cx="148.45" cy="324.59" r="0.75" fill="#d9d49a"/><circle cx="145.80" cy="325.30" r="0.75" fill="#d9d49a"/><circle cx="143.15" cy="324.59" r="0.75" fill="#d9d49a"/><circle cx="141.21" cy="322.65" r="0.75" fill="#d9d49a"/><circle cx="140.50" cy="320.00" r="0.75" fill="#d9d49a"/><circle cx="141.21" cy="317.35" r="0.75" fill="#d9d49a"/><circle cx="143.15" cy="315.41" r="0.75" fill="#d9d49a"/><circle cx="145.80" cy="314.70" r="0.75" fill="#d9d49a"/><circle cx="148.45" cy="315.41" r="0.75" fill="#d9d49a"/><circle cx="150.39" cy="317.35" r="0.75" fill="#d9d49a"/></svg><div class="reg">874/2012</div><span class="lg" style="left:189.40px;transform:scaleX(0.5807);text-shadow:1.550px 0 0 #6b6b6b">E</span><span class="lg" style="left:210.04px;transform:scaleX(0.6384);text-shadow:1.410px 0 0 #6b6b6b">S</span></div><div class="cell" style="left:0px;top:683px;height:341px"></div><div class="lbl" style="left:4px;top:687px;height:332.6px"></div><div class="c" style="left:0px;top:683px"><svg width="256" height="100" viewBox="0 0 256 100"><rect x="11.05" y="53.75" width="44.2" height="43.7" rx="3.6" fill="none" stroke="#5cb3de" stroke-width="1.7"/><path d="M27.3 59.5H39.3L44.1 74.8H21.9Z" fill="#06a6ec"/><rect x="31.4" y="74" width="3.5" height="16" fill="#06a6ec"/><rect x="26.6" y="89.1" width="12.4" height="3.9" rx="1.9" fill="#06a6ec"/><rect x="12.3" y="44" width="147.2" height="1.9" fill="#62b5dd"/></svg><div class="brand">vidaXL</div><div class="num">44211</div><div class="ds" style="left:59.63px;top:54.80px">Esta luminária é</div><div class="ds" style="left:59.63px;top:65.50px">compatível com</div><div class="ds" style="left:59.63px;top:76.20px">bulbos das classes</div><div class="ds" style="left:59.63px;top:86.90px">de energia:</div></div><div class="c" style="left:0px;top:683px"><svg width="256" height="270" viewBox="0 0 256 270"><path d="M11.0 129.55H40.70L50.70 137.85L40.70 146.15H11.0Z" fill="#049648"/><path d="M11.0 149.27H47.30L57.30 157.57L47.30 165.87H11.0Z" fill="#43b034"/><path d="M11.0 168.99H52.30L62.30 177.29L52.30 185.59H11.0Z" fill="#c4d700"/><path d="M11.0 188.71H59.70L69.70 197.01L59.70 205.31H11.0Z" fill="#fff000"/><path d="M11.0 208.43H68.70L78.70 216.73L68.70 225.03H11.0Z" fill="#fbbe00"/><path d="M11.0 228.15H75.90L85.90 236.45L75.90 244.75H11.0Z" fill="#ed6d00"/><path d="M11.0 247.87H84.70L94.70 256.17L84.70 264.47H11.0Z" fill="#e60013"/><rect x="25.00" y="133.30" width="5.0" height="1.4" fill="#fff"/><rect x="26.80" y="131.50" width="1.4" height="5.0" fill="#fff"/><rect x="31.40" y="133.30" width="5.0" height="1.4" fill="#fff"/><rect x="33.20" y="131.50" width="1.4" height="5.0" fill="#fff"/><rect x="24.40" y="154.35" width="5.8" height="1.5" fill="#fff"/><rect x="26.55" y="152.20" width="1.5" height="5.8" fill="#fff"/><path d="M100.1 131.2C105 131.4 108.5 134.5 109.5 139.5C109.9 141.5 110.1 143 110.1 145.5V181C110.1 188 112.5 192.5 119 197.2C115.5 200.2 110.4 205 110.1 214V248C110 253.5 108.5 257.5 105.5 260.5C104 261.8 102.2 262.6 100.2 263" fill="none" stroke="#0b98d6" stroke-width="3.5" stroke-linecap="butt" stroke-linejoin="round"/><g transform="translate(129.8 193.6) rotate(-34)"><path d="M-3.4 5.1A6.1 6.1 0 1 1 3.4 5.1L1.9 11.2H-1.9Z" fill="none" stroke="#a4c9d4" stroke-width="1.0"/><rect x="-2.5" y="10.6" width="5" height="3.6" rx="1" fill="#1689be"/></g></svg><span class="lt" style="left:12.90px;top:128.76px;transform:scaleX(0.931)">A</span><span class="lt" style="left:12.90px;top:149.48px;transform:scaleX(0.931)">A</span><span class="lt" style="left:13.00px;top:169.20px;transform:scaleX(0.931)">A</span><span class="lt" style="left:13.16px;top:189.52px;transform:scaleX(0.849)">B</span><span class="lt" style="left:13.26px;top:208.94px;transform:scaleX(0.790)">C</span><span class="lt" style="left:13.07px;top:228.36px;transform:scaleX(0.928)">D</span><span class="lt" style="left:13.13px;top:248.38px;transform:scaleX(0.791)">E</span></div><div class="c" style="left:0px;top:682.6px"><svg width="256" height="340" viewBox="0 0 256 340"><rect x="131.2" y="310" width="29.1" height="19.8" fill="#1d1e8e"/><circle cx="151.10" cy="320.00" r="0.75" fill="#d9d49a"/><circle cx="150.39" cy="322.65" r="0.75" fill="#d9d49a"/><circle cx="148.45" cy="324.59" r="0.75" fill="#d9d49a"/><circle cx="145.80" cy="325.30" r="0.75" fill="#d9d49a"/><circle cx="143.15" cy="324.59" r="0.75" fill="#d9d49a"/><circle cx="141.21" cy="322.65" r="0.75" fill="#d9d49a"/><circle cx="140.50" cy="320.00" r="0.75" fill="#d9d49a"/><circle cx="141.21" cy="317.35" r="0.75" fill="#d9d49a"/><circle cx="143.15" cy="315.41" r="0.75" fill="#d9d49a"/><circle cx="145.80" cy="314.70" r="0.75" fill="#d9d49a"/><circle cx="148.45" cy="315.41" r="0.75" fill="#d9d49a"/><circle cx="150.39" cy="317.35" r="0.75" fill="#d9d49a"/></svg><div class="reg">874/2012</div><span class="lg" style="left:189.20px;transform:scaleX(0.6861);text-shadow:1.312px 0 0 #6b6b6b">P</span><span class="lg" style="left:212.01px;transform:scaleX(0.7291);text-shadow:1.234px 0 0 #6b6b6b">T</span></div><div class="cell" style="left:256px;top:683px;height:341px"></div><div class="lbl" style="left:260px;top:687px;height:332.6px"></div><div class="c" style="left:256px;top:683px"><svg width="256" height="100" viewBox="0 0 256 100"><rect x="11.05" y="53.75" width="44.2" height="43.7" rx="3.6" fill="none" stroke="#5cb3de" stroke-width="1.7"/><path d="M27.3 59.5H39.3L44.1 74.8H21.9Z" fill="#06a6ec"/><rect x="31.4" y="74" width="3.5" height="16" fill="#06a6ec"/><rect x="26.6" y="89.1" width="12.4" height="3.9" rx="1.9" fill="#06a6ec"/><rect x="12.3" y="44" width="147.2" height="1.9" fill="#62b5dd"/></svg><div class="brand">vidaXL</div><div class="num">44211</div><div class="ds" style="left:60.85px;top:54.80px">Αυτό το φωτιστικό</div><div class="ds" style="left:60.85px;top:65.50px">είναι συμβατό με</div><div class="ds" style="left:60.85px;top:76.20px">λάμπες ενεργειακής</div><div class="ds" style="left:60.85px;top:86.90px">κλάσης:</div></div><div class="c" style="left:256px;top:683px"><svg width="256" height="270" viewBox="0 0 256 270"><path d="M11.0 129.55H40.70L50.70 137.85L40.70 146.15H11.0Z" fill="#049648"/><path d="M11.0 149.27H47.30L57.30 157.57L47.30 165.87H11.0Z" fill="#43b034"/><path d="M11.0 168.99H52.30L62.30 177.29L52.30 185.59H11.0Z" fill="#c4d700"/><path d="M11.0 188.71H59.70L69.70 197.01L59.70 205.31H11.0Z" fill="#fff000"/><path d="M11.0 208.43H68.70L78.70 216.73L68.70 225.03H11.0Z" fill="#fbbe00"/><path d="M11.0 228.15H75.90L85.90 236.45L75.90 244.75H11.0Z" fill="#ed6d00"/><path d="M11.0 247.87H84.70L94.70 256.17L84.70 264.47H11.0Z" fill="#e60013"/><rect x="25.00" y="133.30" width="5.0" height="1.4" fill="#fff"/><rect x="26.80" y="131.50" width="1.4" height="5.0" fill="#fff"/><rect x="31.40" y="133.30" width="5.0" height="1.4" fill="#fff"/><rect x="33.20" y="131.50" width="1.4" height="5.0" fill="#fff"/><rect x="24.40" y="154.35" width="5.8" height="1.5" fill="#fff"/><rect x="26.55" y="152.20" width="1.5" height="5.8" fill="#fff"/><path d="M100.1 131.2C105 131.4 108.5 134.5 109.5 139.5C109.9 141.5 110.1 143 110.1 145.5V181C110.1 188 112.5 192.5 119 197.2C115.5 200.2 110.4 205 110.1 214V248C110 253.5 108.5 257.5 105.5 260.5C104 261.8 102.2 262.6 100.2 263" fill="none" stroke="#0b98d6" stroke-width="3.5" stroke-linecap="butt" stroke-linejoin="round"/><g transform="translate(129.8 193.6) rotate(-34)"><path d="M-3.4 5.1A6.1 6.1 0 1 1 3.4 5.1L1.9 11.2H-1.9Z" fill="none" stroke="#a4c9d4" stroke-width="1.0"/><rect x="-2.5" y="10.6" width="5" height="3.6" rx="1" fill="#1689be"/></g></svg><span class="lt" style="left:12.90px;top:128.76px;transform:scaleX(0.931)">A</span><span class="lt" style="left:12.90px;top:149.48px;transform:scaleX(0.931)">A</span><span class="lt" style="left:13.00px;top:169.20px;transform:scaleX(0.931)">A</span><span class="lt" style="left:13.16px;top:189.52px;transform:scaleX(0.849)">B</span><span class="lt" style="left:13.26px;top:208.94px;transform:scaleX(0.790)">C</span><span class="lt" style="left:13.07px;top:228.36px;transform:scaleX(0.928)">D</span><span class="lt" style="left:13.13px;top:248.38px;transform:scaleX(0.791)">E</span></div><div class="c" style="left:256px;top:682.6px"><svg width="256" height="340" viewBox="0 0 256 340"><rect x="131.2" y="310" width="29.1" height="19.8" fill="#1d1e8e"/><circle cx="151.10" cy="320.00" r="0.75" fill="#d9d49a"/><circle cx="150.39" cy="322.65" r="0.75" fill="#d9d49a"/><circle cx="148.45" cy="324.59" r="0.75" fill="#d9d49a"/><circle cx="145.80" cy="325.30" r="0.75" fill="#d9d49a"/><circle cx="143.15" cy="324.59" r="0.75" fill="#d9d49a"/><circle cx="141.21" cy="322.65" r="0.75" fill="#d9d49a"/><circle cx="140.50" cy="320.00" r="0.75" fill="#d9d49a"/><circle cx="141.21" cy="317.35" r="0.75" fill="#d9d49a"/><circle cx="143.15" cy="315.41" r="0.75" fill="#d9d49a"/><circle cx="145.80" cy="314.70" r="0.75" fill="#d9d49a"/><circle cx="148.45" cy="315.41" r="0.75" fill="#d9d49a"/><circle cx="150.39" cy="317.35" r="0.75" fill="#d9d49a"/></svg><div class="reg">874/2012</div><span class="lg" style="left:189.61px;transform:scaleX(0.5768);text-shadow:1.560px 0 0 #6b6b6b">E</span><span class="lg" style="left:210.91px;transform:scaleX(0.6827);text-shadow:1.318px 0 0 #6b6b6b">L</span></div><div class="cell" style="left:512px;top:683px;height:341px"></div><div class="lbl" style="left:516px;top:687px;height:332.6px"></div><div class="c" style="left:512px;top:683px"><svg width="256" height="100" viewBox="0 0 256 100"><rect x="11.05" y="53.75" width="44.2" height="43.7" rx="3.6" fill="none" stroke="#5cb3de" stroke-width="1.7"/><path d="M27.3 59.5H39.3L44.1 74.8H21.9Z" fill="#06a6ec"/><rect x="31.4" y="74" width="3.5" height="16" fill="#06a6ec"/><rect x="26.6" y="89.1" width="12.4" height="3.9" rx="1.9" fill="#06a6ec"/><rect x="12.3" y="44" width="147.2" height="1.9" fill="#62b5dd"/></svg><div class="brand">vidaXL</div><div class="num">44211</div><div class="ds" style="left:59.93px;top:60.15px">Dette armatur er</div><div class="ds" style="left:59.93px;top:70.85px">kompatibel med løg</div><div class="ds" style="left:59.93px;top:81.55px">af energiklasser:</div></div><div class="c" style="left:512px;top:683px"><svg width="256" height="270" viewBox="0 0 256 270"><path d="M11.0 129.55H40.70L50.70 137.85L40.70 146.15H11.0Z" fill="#049648"/><path d="M11.0 149.27H47.30L57.30 157.57L47.30 165.87H11.0Z" fill="#43b034"/><path d="M11.0 168.99H52.30L62.30 177.29L52.30 185.59H11.0Z" fill="#c4d700"/><path d="M11.0 188.71H59.70L69.70 197.01L59.70 205.31H11.0Z" fill="#fff000"/><path d="M11.0 208.43H68.70L78.70 216.73L68.70 225.03H11.0Z" fill="#fbbe00"/><path d="M11.0 228.15H75.90L85.90 236.45L75.90 244.75H11.0Z" fill="#ed6d00"/><path d="M11.0 247.87H84.70L94.70 256.17L84.70 264.47H11.0Z" fill="#e60013"/><rect x="25.00" y="133.30" width="5.0" height="1.4" fill="#fff"/><rect x="26.80" y="131.50" width="1.4" height="5.0" fill="#fff"/><rect x="31.40" y="133.30" width="5.0" height="1.4" fill="#fff"/><rect x="33.20" y="131.50" width="1.4" height="5.0" fill="#fff"/><rect x="24.40" y="154.35" width="5.8" height="1.5" fill="#fff"/><rect x="26.55" y="152.20" width="1.5" height="5.8" fill="#fff"/><path d="M100.1 131.2C105 131.4 108.5 134.5 109.5 139.5C109.9 141.5 110.1 143 110.1 145.5V181C110.1 188 112.5 192.5 119 197.2C115.5 200.2 110.4 205 110.1 214V248C110 253.5 108.5 257.5 105.5 260.5C104 261.8 102.2 262.6 100.2 263" fill="none" stroke="#0b98d6" stroke-width="3.5" stroke-linecap="butt" stroke-linejoin="round"/><g transform="translate(129.8 193.6) rotate(-34)"><path d="M-3.4 5.1A6.1 6.1 0 1 1 3.4 5.1L1.9 11.2H-1.9Z" fill="none" stroke="#a4c9d4" stroke-width="1.0"/><rect x="-2.5" y="10.6" width="5" height="3.6" rx="1" fill="#1689be"/></g></svg><span class="lt" style="left:12.90px;top:128.76px;transform:scaleX(0.931)">A</span><span class="lt" style="left:12.90px;top:149.48px;transform:scaleX(0.931)">A</span><span class="lt" style="left:13.00px;top:169.20px;transform:scaleX(0.931)">A</span><span class="lt" style="left:13.16px;top:189.52px;transform:scaleX(0.849)">B</span><span class="lt" style="left:13.26px;top:208.94px;transform:scaleX(0.790)">C</span><span class="lt" style="left:13.07px;top:228.36px;transform:scaleX(0.928)">D</span><span class="lt" style="left:13.13px;top:248.38px;transform:scaleX(0.791)">E</span></div><div class="c" style="left:512px;top:682.6px"><svg width="256" height="340" viewBox="0 0 256 340"><rect x="131.2" y="310" width="29.1" height="19.8" fill="#1d1e8e"/><circle cx="151.10" cy="320.00" r="0.75" fill="#d9d49a"/><circle cx="150.39" cy="322.65" r="0.75" fill="#d9d49a"/><circle cx="148.45" cy="324.59" r="0.75" fill="#d9d49a"/><circle cx="145.80" cy="325.30" r="0.75" fill="#d9d49a"/><circle cx="143.15" cy="324.59" r="0.75" fill="#d9d49a"/><circle cx="141.21" cy="322.65" r="0.75" fill="#d9d49a"/><circle cx="140.50" cy="320.00" r="0.75" fill="#d9d49a"/><circle cx="141.21" cy="317.35" r="0.75" fill="#d9d49a"/><circle cx="143.15" cy="315.41" r="0.75" fill="#d9d49a"/><circle cx="145.80" cy="314.70" r="0.75" fill="#d9d49a"/><circle cx="148.45" cy="315.41" r="0.75" fill="#d9d49a"/><circle cx="150.39" cy="317.35" r="0.75" fill="#d9d49a"/></svg><div class="reg">874/2012</div><span class="lg" style="left:188.71px;transform:scaleX(0.8155);text-shadow:1.104px 0 0 #6b6b6b">D</span><span class="lg" style="left:218.11px;transform:scaleX(0.8087);text-shadow:1.113px 0 0 #6b6b6b">A</span></div><div class="cell" style="left:768px;top:683px;height:341px"></div><div class="lbl" style="left:772px;top:687px;height:332.6px"></div><div class="c" style="left:768px;top:683px"><svg width="256" height="100" viewBox="0 0 256 100"><rect x="11.05" y="53.75" width="44.2" height="43.7" rx="3.6" fill="none" stroke="#5cb3de" stroke-width="1.7"/><path d="M27.3 59.5H39.3L44.1 74.8H21.9Z" fill="#06a6ec"/><rect x="31.4" y="74" width="3.5" height="16" fill="#06a6ec"/><rect x="26.6" y="89.1" width="12.4" height="3.9" rx="1.9" fill="#06a6ec"/><rect x="12.3" y="44" width="147.2" height="1.9" fill="#62b5dd"/></svg><div class="brand">vidaXL</div><div class="num">44211</div><div class="ds" style="left:59.82px;top:60.15px">Осветителното тяло е</div><div class="ds" style="left:59.82px;top:70.85px">съвместимо с крушки</div><div class="ds" style="left:59.82px;top:81.55px">от енергийни класове:</div></div><div class="c" style="left:768px;top:683px"><svg width="256" height="270" viewBox="0 0 256 270"><path d="M11.0 129.55H40.70L50.70 137.85L40.70 146.15H11.0Z" fill="#049648"/><path d="M11.0 149.27H47.30L57.30 157.57L47.30 165.87H11.0Z" fill="#43b034"/><path d="M11.0 168.99H52.30L62.30 177.29L52.30 185.59H11.0Z" fill="#c4d700"/><path d="M11.0 188.71H59.70L69.70 197.01L59.70 205.31H11.0Z" fill="#fff000"/><path d="M11.0 208.43H68.70L78.70 216.73L68.70 225.03H11.0Z" fill="#fbbe00"/><path d="M11.0 228.15H75.90L85.90 236.45L75.90 244.75H11.0Z" fill="#ed6d00"/><path d="M11.0 247.87H84.70L94.70 256.17L84.70 264.47H11.0Z" fill="#e60013"/><rect x="25.00" y="133.30" width="5.0" height="1.4" fill="#fff"/><rect x="26.80" y="131.50" width="1.4" height="5.0" fill="#fff"/><rect x="31.40" y="133.30" width="5.0" height="1.4" fill="#fff"/><rect x="33.20" y="131.50" width="1.4" height="5.0" fill="#fff"/><rect x="24.40" y="154.35" width="5.8" height="1.5" fill="#fff"/><rect x="26.55" y="152.20" width="1.5" height="5.8" fill="#fff"/><path d="M100.1 131.2C105 131.4 108.5 134.5 109.5 139.5C109.9 141.5 110.1 143 110.1 145.5V181C110.1 188 112.5 192.5 119 197.2C115.5 200.2 110.4 205 110.1 214V248C110 253.5 108.5 257.5 105.5 260.5C104 261.8 102.2 262.6 100.2 263" fill="none" stroke="#0b98d6" stroke-width="3.5" stroke-linecap="butt" stroke-linejoin="round"/><g transform="translate(129.8 193.6) rotate(-34)"><path d="M-3.4 5.1A6.1 6.1 0 1 1 3.4 5.1L1.9 11.2H-1.9Z" fill="none" stroke="#a4c9d4" stroke-width="1.0"/><rect x="-2.5" y="10.6" width="5" height="3.6" rx="1" fill="#1689be"/></g></svg><span class="lt" style="left:12.90px;top:128.76px;transform:scaleX(0.931)">A</span><span class="lt" style="left:12.90px;top:149.48px;transform:scaleX(0.931)">A</span><span class="lt" style="left:13.00px;top:169.20px;transform:scaleX(0.931)">A</span><span class="lt" style="left:13.16px;top:189.52px;transform:scaleX(0.849)">B</span><span class="lt" style="left:13.26px;top:208.94px;transform:scaleX(0.790)">C</span><span class="lt" style="left:13.07px;top:228.36px;transform:scaleX(0.928)">D</span><span class="lt" style="left:13.13px;top:248.38px;transform:scaleX(0.791)">E</span></div><div class="c" style="left:768px;top:682.6px"><svg width="256" height="340" viewBox="0 0 256 340"><rect x="131.2" y="310" width="29.1" height="19.8" fill="#1d1e8e"/><circle cx="151.10" cy="320.00" r="0.75" fill="#d9d49a"/><circle cx="150.39" cy="322.65" r="0.75" fill="#d9d49a"/><circle cx="148.45" cy="324.59" r="0.75" fill="#d9d49a"/><circle cx="145.80" cy="325.30" r="0.75" fill="#d9d49a"/><circle cx="143.15" cy="324.59" r="0.75" fill="#d9d49a"/><circle cx="141.21" cy="322.65" r="0.75" fill="#d9d49a"/><circle cx="140.50" cy="320.00" r="0.75" fill="#d9d49a"/><circle cx="141.21" cy="317.35" r="0.75" fill="#d9d49a"/><circle cx="143.15" cy="315.41" r="0.75" fill="#d9d49a"/><circle cx="145.80" cy="314.70" r="0.75" fill="#d9d49a"/><circle cx="148.45" cy="315.41" r="0.75" fill="#d9d49a"/><circle cx="150.39" cy="317.35" r="0.75" fill="#d9d49a"/></svg><div class="reg">874/2012</div><span class="lg" style="left:189.14px;transform:scaleX(0.7019);text-shadow:1.282px 0 0 #6b6b6b">B</span><span class="lg" style="left:212.60px;transform:scaleX(0.7601);text-shadow:1.184px 0 0 #6b6b6b">G</span></div></body></html>
